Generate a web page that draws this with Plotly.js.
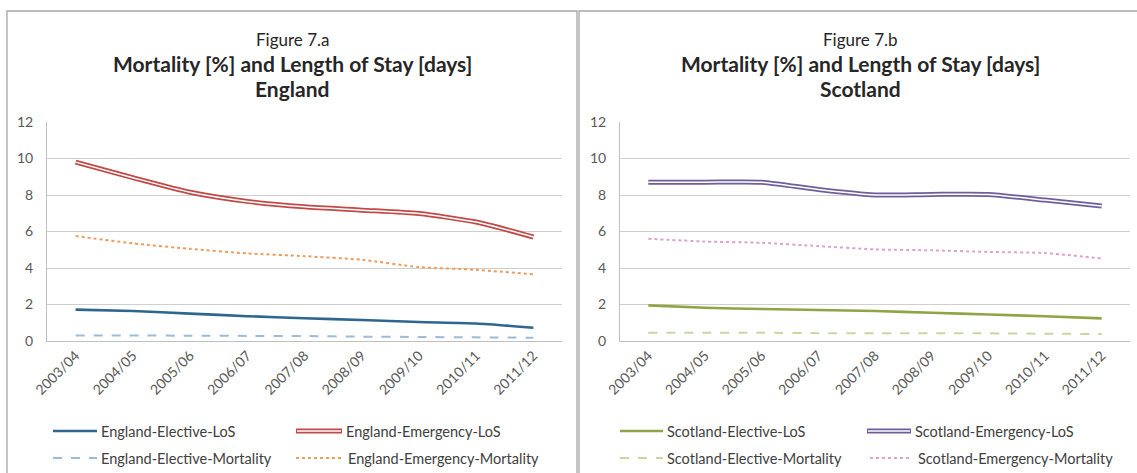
<!DOCTYPE html>
<html>
<head>
<meta charset="utf-8">
<script src="https://cdn.plot.ly/plotly-3.0.1.min.js"></script>
<style>
html,body{margin:0;padding:0;background:#ffffff;}
#chart{width:1137px;height:473px;}
</style>
</head>
<body>
<div id="chart"></div>
<script>
// ---------------- DATA ----------------
const years = ['2003/04','2004/05','2005/06','2006/07','2007/08','2008/09','2009/10','2010/11','2011/12'];

const englandElectiveLoS       = [1.72, 1.64, 1.50, 1.36, 1.25, 1.15, 1.04, 0.96, 0.73];
const englandEmergencyLoS      = [9.80, 8.95, 8.15, 7.65, 7.35, 7.17, 6.98, 6.52, 5.70];
const englandElectiveMortality = [0.30, 0.30, 0.29, 0.28, 0.27, 0.24, 0.22, 0.20, 0.18];
const englandEmergencyMortality= [5.75, 5.35, 5.05, 4.80, 4.65, 4.45, 4.05, 3.90, 3.65];

const scotlandElectiveLoS       = [1.95, 1.82, 1.75, 1.70, 1.64, 1.55, 1.45, 1.36, 1.24];
const scotlandEmergencyLoS      = [8.70, 8.70, 8.70, 8.30, 8.00, 8.03, 8.03, 7.72, 7.40];
const scotlandElectiveMortality = [0.45, 0.45, 0.45, 0.43, 0.43, 0.43, 0.42, 0.40, 0.38];
const scotlandEmergencyMortality= [5.60, 5.45, 5.38, 5.20, 5.02, 4.97, 4.88, 4.82, 4.52];

const englandNames  = ['England-Elective-LoS','England-Emergency-LoS','England-Elective-Mortality','England-Emergency-Mortality'];
const scotlandNames = ['Scotland-Elective-LoS','Scotland-Emergency-LoS','Scotland-Elective-Mortality','Scotland-Emergency-Mortality'];

const figureLabels = ['Figure 7.a','Figure 7.b'];
const mainTitle = 'Mortality [%] and Length of Stay [days]';
const regionLabels = ['England','Scotland'];
const yTicks = [0,2,4,6,8,10,12];

// ---------------- STYLE ----------------
const W = 1137, H = 473;
const px = x => x / W;
const py = y => 1 - y / H;
const FONT = 'Lato, "Open Sans", sans-serif';

const styles = {
  engElecLoS:  {color:'#2F6690', width:2.6, dash:'solid'},
  engEmLoSOut: {color:'#BF4A47', width:5, dash:'solid'},
  engElecMort: {color:'#9DBBD9', width:2, dash:'dash'},
  engEmMort:   {color:'#EE9C5C', width:2, dash:'dot'},
  scoElecLoS:  {color:'#8FA545', width:2.6, dash:'solid'},
  scoEmLoSOut: {color:'#6F5E9C', width:5, dash:'solid'},
  scoElecMort: {color:'#C7D79E', width:2, dash:'dash'},
  scoEmMort:   {color:'#DDA2CB', width:2, dash:'dot'},
  inner:       {color:'#FFFFFF', width:1.5, dash:'solid'}
};

function tr(y, name, st, xa, ya, smooth) {
  return {
    type:'scatter', mode:'lines', x: years, y: y, name: name,
    xaxis: xa, yaxis: ya, showlegend:false, hoverinfo:'skip',
    line:{color:st.color, width:st.width, dash:st.dash, shape: smooth ? 'spline' : 'linear', smoothing:0.6}
  };
}

const data = [
  tr(englandElectiveMortality, englandNames[2], styles.engElecMort, 'x', 'y', true),
  tr(englandEmergencyMortality, englandNames[3], styles.engEmMort, 'x', 'y', true),
  tr(englandElectiveLoS, englandNames[0], styles.engElecLoS, 'x', 'y', true),
  tr(englandEmergencyLoS, englandNames[1], styles.engEmLoSOut, 'x', 'y', true),
  tr(englandEmergencyLoS, englandNames[1] + ' (inner)', styles.inner, 'x', 'y', true),

  tr(scotlandElectiveMortality, scotlandNames[2], styles.scoElecMort, 'x2', 'y2', true),
  tr(scotlandEmergencyMortality, scotlandNames[3], styles.scoEmMort, 'x2', 'y2', true),
  tr(scotlandElectiveLoS, scotlandNames[0], styles.scoElecLoS, 'x2', 'y2', true),
  tr(scotlandEmergencyLoS, scotlandNames[1], styles.scoEmLoSOut, 'x2', 'y2', true),
  tr(scotlandEmergencyLoS, scotlandNames[1] + ' (inner)', styles.inner, 'x2', 'y2', true)
];

const plotTop = 122, plotBottom = 341;
const panels = [
  {l:47, r:562, frameL:7, frameR:577, legend:{c1:[53,97,99], c2:[296,342,344], c2b:[296,341,346]}},
  {l:620, r:1130, frameL:579, frameR:1160, legend:{c1:[620,663,665], c2:[867,911,913], c2b:[870,910,916]}}
];

function xAxis(p, anchor) {
  return {
    domain:[px(p.l), px(p.r)], anchor: anchor, type:'category',
    range:[-0.5, 8.5], showgrid:false, zeroline:false,
    showline:true, linecolor:'#BFBFBF', linewidth:1,
    ticks:'', tickangle:-45, fixedrange:true,
    tickfont:{family:FONT, size:14, color:'#595959'}
  };
}
function yAxis(anchor) {
  return {
    domain:[py(plotBottom), py(plotTop)], anchor: anchor,
    range:[0,12], tickvals: yTicks, ticktext: yTicks.map(String),
    showgrid:true, gridcolor:'#CFCFCF', gridwidth:1, zeroline:false,
    showline:true, linecolor:'#BFBFBF', linewidth:1,
    ticks:'outside', ticklen:10, tickcolor:'rgba(0,0,0,0)', fixedrange:true,
    tickfont:{family:FONT, size:14, color:'#595959'}
  };
}

const shapes = [];
const annotations = [];

// panel frames
panels.forEach(p => {
  shapes.push({type:'rect', xref:'paper', yref:'paper',
    x0:px(p.frameL), x1:px(p.frameR), y0:py(520), y1:py(11),
    line:{color:'#A6A6A6', width:1.3}, fillcolor:'rgba(0,0,0,0)', layer:'below'});
});

// titles
[0,1].forEach(i => {
  const p = panels[i];
  const cx = px((p.frameL + Math.min(p.frameR, W)) / 2 + (i===1 ? 2 : 0));
  annotations.push({xref:'paper', yref:'paper', x:cx, y:py(40), xanchor:'center', yanchor:'middle',
    text:figureLabels[i], showarrow:false, font:{family:FONT, size:17, color:'#262626'}});
  annotations.push({xref:'paper', yref:'paper', x:cx, y:py(64), xanchor:'center', yanchor:'middle',
    text:'<b>' + mainTitle + '</b>', showarrow:false, font:{family:FONT, size:21, color:'#262626'}});
  annotations.push({xref:'paper', yref:'paper', x:cx, y:py(88), xanchor:'center', yanchor:'middle',
    text:'<b>' + regionLabels[i] + '</b>', showarrow:false, font:{family:FONT, size:21, color:'#262626'}});
});

// custom legends
function legendEntry(x0, x1, tx, y, st, name, dbl) {
  shapes.push({type:'line', xref:'paper', yref:'paper', x0:px(x0), x1:px(x1), y0:py(y), y1:py(y),
    line:{color:st.color, width:st.width, dash:st.dash}});
  if (dbl) {
    shapes.push({type:'line', xref:'paper', yref:'paper', x0:px(x0+1), x1:px(x1-1), y0:py(y), y1:py(y),
      line:{color:'#FFFFFF', width:1.5, dash:'solid'}});
  }
  annotations.push({xref:'paper', yref:'paper', x:px(tx), y:py(y), xanchor:'left', yanchor:'middle',
    text:name, showarrow:false, font:{family:FONT, size:14.5, color:'#404040'}});
}
const row1 = 431, row2 = 458;
const legStyles = [
  [styles.engElecLoS, styles.engEmLoSOut, styles.engElecMort, styles.engEmMort],
  [styles.scoElecLoS, styles.scoEmLoSOut, styles.scoElecMort, styles.scoEmMort]
];
const legNames = [englandNames, scotlandNames];
[0,1].forEach(i => {
  const L = panels[i].legend, s = legStyles[i], n = legNames[i];
  legendEntry(L.c1[0], L.c1[1], L.c1[2], row1, s[0], n[0], false);
  legendEntry(L.c2[0], L.c2[1], L.c2[2], row1, s[1], n[1], true);
  legendEntry(L.c1[0], L.c1[1], L.c1[2], row2, s[2], n[2], false);
  legendEntry(L.c2b[0], L.c2b[1], L.c2b[2], row2, s[3], n[3], false);
});

const layout = {
  width: W, height: H,
  margin:{l:0, r:0, t:0, b:0, pad:0},
  paper_bgcolor:'#FFFFFF', plot_bgcolor:'#FFFFFF',
  showlegend:false,
  font:{family:FONT, color:'#404040'},
  xaxis: xAxis(panels[0], 'y'),
  yaxis: yAxis('x'),
  xaxis2: xAxis(panels[1], 'y2'),
  yaxis2: yAxis('x2'),
  shapes: shapes,
  annotations: annotations
};

Plotly.newPlot('chart', data, layout, {displayModeBar:false, staticPlot:true});
</script>
</body>
</html>
